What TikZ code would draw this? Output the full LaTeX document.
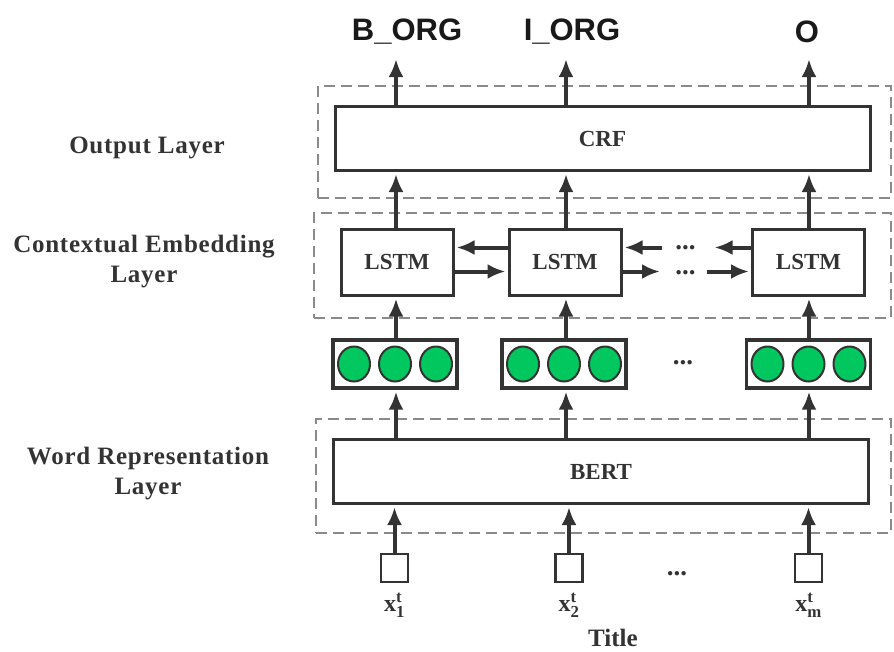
\documentclass[tikz,border=0pt]{standalone}
\usepackage{fontspec}
\setmainfont{Liberation Serif}
\setsansfont{Liberation Sans}
\usepackage{xcolor}
\usepackage{tikz}
\usetikzlibrary{shapes.geometric, arrows.meta, positioning}

\definecolor{unitgreen}{RGB}{0,200,95}
\definecolor{inkgray}{RGB}{51,51,51}
\definecolor{dashgray}{RGB}{138,138,138}

\begin{document}
\begin{tikzpicture}[x=1pt, y=-1pt, auto,
    layerbox/.style={rectangle, draw=dashgray, dash pattern=on 11pt off 6pt, line width=2.5pt, inner sep=0pt},
    bigblock/.style={rectangle, draw=inkgray, line width=3pt, text=inkgray, minimum width=535pt, minimum height=64pt, font=\fontsize{23}{27}\selectfont\bfseries},
    lstmblock/.style={rectangle, draw=inkgray, line width=3pt, text=inkgray, minimum width=112pt, minimum height=66pt, font=\fontsize{23}{27}\selectfont\bfseries},
    embblock/.style={rectangle, draw=inkgray, line width=3.3pt, minimum width=124pt, minimum height=48pt},
    unit/.style={ellipse, draw=inkgray, fill=unitgreen, line width=2pt, inner sep=0pt, minimum width=32pt, minimum height=35pt},
    tokbox/.style={rectangle, draw=inkgray, line width=2.5pt, minimum width=27pt, minimum height=28pt, inner sep=0pt},
    layertext/.style={text=inkgray, align=center, font=\fontsize{25}{30}\selectfont\bfseries\addfontfeatures{LetterSpace=3}},
    taglabel/.style={text=black!90, font=\fontsize{31}{36}\selectfont\sffamily\bfseries},
    toklabel/.style={text=inkgray, font=\fontsize{24}{28}\selectfont},
    dots/.style={text=inkgray, inner sep=0pt, font=\fontsize{27}{30}\selectfont\bfseries},
    arrow/.style={draw=inkgray, -{Latex[length=18pt, width=15pt]}, line width=4pt, shorten >=2pt}]

    \useasboundingbox (0,0) rectangle (894,651);

    % dashed layer frames
    \node [layerbox, minimum width=573pt, minimum height=112pt] (outbox) at (604.5,142) {};
    \node [layerbox, minimum width=577pt, minimum height=105pt] (ctxbox) at (602.5,265.5) {};
    \node [layerbox, minimum width=575pt, minimum height=114pt] (wordbox) at (603.5,476) {};

    \node [layertext] (outlab) at (147,148) {Output Layer};
    \node [layertext] (ctxlab) at (144,262) {Contextual Embedding\\Layer};
    \node [layertext] (wordlab) at (148,474) {Word Representation\\Layer};

    % output layer
    \node [bigblock] (crf) at (602.5,138.5) {CRF};
    \node [taglabel] (borg) at (407,32) {B\_ORG};
    \node [taglabel] (iorg) at (572,32) {I\_ORG};
    \node [taglabel] (otag) at (807,32) {O};
    \coordinate (t1) at (396,57);
    \coordinate (t2) at (566,57);
    \coordinate (t3) at (809,57);

    % contextual embedding layer
    \node [lstmblock] (lstm1) at (397,262) {LSTM};
    \node [lstmblock] (lstm2) at (565,262) {LSTM};
    \node [lstmblock] (lstm3) at (808.5,262) {LSTM};
    \node [dots] (dup) at (685.5,248) {...};
    \node [dots] (dlow) at (685.5,273) {...};
    \coordinate (u1) at (661.5,247.5);
    \coordinate (u2) at (712.5,247.5);
    \coordinate (l1) at (662,271.5);
    \coordinate (l2) at (707,271.5);

    % word vectors
    \node [embblock] (emb1) at (395,364) {};
    \node [embblock] (emb2) at (564,364) {};
    \node [embblock] (emb3) at (808.5,364) {};
    \node [unit] (c12) at (emb1) {};
    \node [unit, left=7pt of c12] (c11) {};
    \node [unit, right=7pt of c12] (c13) {};
    \node [unit] (c22) at (emb2) {};
    \node [unit, left=7pt of c22] (c21) {};
    \node [unit, right=7pt of c22] (c23) {};
    \node [unit] (c32) at (emb3) {};
    \node [unit, left=7pt of c32] (c31) {};
    \node [unit, right=7pt of c32] (c33) {};
    \node [dots] (demb) at (683,363) {...};

    % word representation layer
    \node [bigblock] (bert) at (601,471.5) {BERT};
    \node [tokbox] (x1) at (394.5,568) {};
    \node [tokbox] (x2) at (569,568) {};
    \node [tokbox] (xm) at (808.5,568) {};
    \node [dots] (dtok) at (677,574) {...};
    \node [toklabel, below=6pt of x1] (x1lab) {$\mathbf{x}_{\mathbf{1}}^{\mathbf{t}}$};
    \node [toklabel, below=6pt of x2] (x2lab) {$\mathbf{x}_{\mathbf{2}}^{\mathbf{t}}$};
    \node [toklabel, below=6pt of xm] (xmlab) {$\mathbf{x}_{\mathbf{m}}^{\mathbf{t}}$};
    \node [text=inkgray, font=\fontsize{25}{30}\selectfont\bfseries] (title) at (613,638) {Title};

    % connections
    \draw [arrow] (crf.north -| t1) -- (t1);
    \draw [arrow] (crf.north -| t2) -- (t2);
    \draw [arrow] (crf.north -| t3) -- (t3);
    \draw [arrow] (lstm1.north -| t1) -- (crf.south -| t1);
    \draw [arrow] (lstm2.north -| t2) -- (crf.south -| t2);
    \draw [arrow] (lstm3.north -| t3) -- (crf.south -| t3);
    \draw [arrow] (lstm2.west |- u1) -- (lstm1.east |- u1);
    \draw [arrow] (lstm1.east |- l1) -- (lstm2.west |- l1);
    \draw [arrow] (u1) -- (lstm2.east |- u1);
    \draw [arrow] (lstm2.east |- l1) -- (l1);
    \draw [arrow] (lstm3.west |- u2) -- (u2);
    \draw [arrow] (l2) -- (lstm3.west |- l2);
    \draw [arrow] (emb1.north -| t1) -- (lstm1.south -| t1);
    \draw [arrow] (emb2.north -| t2) -- (lstm2.south -| t2);
    \draw [arrow] (emb3.north -| t3) -- (lstm3.south -| t3);
    \draw [arrow] (bert.north -| t1) -- (emb1.south -| t1);
    \draw [arrow] (bert.north -| t2) -- (emb2.south -| t2);
    \draw [arrow] (bert.north -| t3) -- (emb3.south -| t3);
    \draw [arrow] (x1.north) -- (bert.south -| x1);
    \draw [arrow] (x2.north) -- (bert.south -| x2);
    \draw [arrow] (xm.north) -- (bert.south -| xm);

\end{tikzpicture}
\end{document}
